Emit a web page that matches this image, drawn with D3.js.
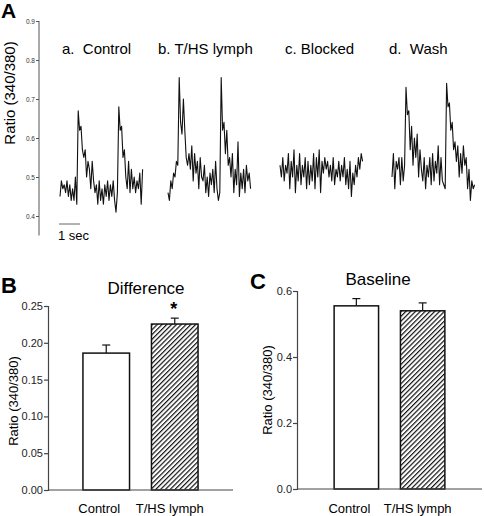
<!DOCTYPE html>
<html><head><meta charset="utf-8">
<script src="https://cdn.jsdelivr.net/npm/d3@7"></script>
<style>body{margin:0;background:#fff}svg{display:block}</style>
</head><body>
<svg id="chart" width="484" height="516"></svg>
<script>
// ---------- DATA ----------
const traceLabels = ["a.  Control", "b. T/HS lymph", "c. Blocked", "d.  Wash"];
const traceA = [0.45,0.49,0.47,0.48,0.46,0.49,0.45,0.48,0.44,0.47,0.44,0.50,0.43,0.67,0.62,0.63,0.57,0.55,0.57,0.50,
                0.54,0.52,0.47,0.54,0.49,0.46,0.48,0.43,0.49,0.44,0.47,0.43,0.48,0.45,0.49,0.44,0.48,0.45,0.49,0.44,
                0.41,0.46,0.68,0.62,0.63,0.55,0.57,0.50,0.47,0.54,0.46,0.52,0.47,0.50,0.46,0.49,0.47,0.51,0.43,0.52];
const traceB = [0.46,0.44,0.49,0.47,0.51,0.50,0.54,0.53,0.755,0.64,0.61,0.70,0.62,0.55,0.53,0.56,0.52,0.58,0.49,0.56,
                0.51,0.54,0.47,0.55,0.50,0.49,0.53,0.46,0.50,0.45,0.51,0.48,0.52,0.46,0.54,0.47,0.44,0.46,0.755,0.62,
                0.64,0.56,0.62,0.53,0.55,0.50,0.56,0.46,0.52,0.48,0.59,0.45,0.51,0.47,0.52,0.46,0.53,0.49,0.51,0.47];
const traceC = [0.53,0.50,0.55,0.49,0.53,0.51,0.56,0.47,0.54,0.50,0.57,0.46,0.53,0.49,0.56,0.48,0.53,0.50,0.55,0.47,
                0.54,0.48,0.53,0.49,0.56,0.47,0.55,0.50,0.57,0.46,0.54,0.51,0.55,0.52,0.54,0.50,0.53,0.49,0.55,0.48,
                0.52,0.50,0.54,0.49,0.53,0.50,0.55,0.48,0.52,0.47,0.54,0.45,0.51,0.48,0.53,0.50,0.55,0.52,0.56,0.54];
const traceD = [0.50,0.56,0.47,0.54,0.52,0.55,0.48,0.55,0.49,0.53,0.73,0.66,0.67,0.57,0.63,0.53,0.60,0.55,0.61,0.50,
                0.57,0.52,0.49,0.55,0.47,0.53,0.50,0.55,0.48,0.56,0.49,0.54,0.51,0.58,0.48,0.55,0.49,0.48,0.47,0.74,
                0.68,0.69,0.62,0.64,0.57,0.59,0.54,0.58,0.50,0.56,0.51,0.58,0.53,0.55,0.47,0.52,0.44,0.49,0.47,0.48];
const sampleInterval = 1 / 15;           // seconds per sample
const traceTicks = [0.4, 0.5, 0.6, 0.7, 0.8, 0.9];

const barCategories = ["Control", "T/HS lymph"];
const differenceMeans = [0.186, 0.2255];
const differenceErrors = [0.011, 0.008];
const differenceTicks = [0, 0.05, 0.10, 0.15, 0.20, 0.25];
const baselineMeans = [0.555, 0.540];
const baselineErrors = [0.022, 0.024];
const baselineTicks = [0, 0.2, 0.4, 0.6];

// ---------- DRAW ----------
const FONT = "'Liberation Sans', Arial, Helvetica, sans-serif";
const svg = d3.select("#chart").style("font-family", FONT);

// pattern for hatched bars
const defs = svg.append("defs");
defs.append("pattern").attr("id", "hatch").attr("patternUnits", "userSpaceOnUse")
  .attr("width", 3.4).attr("height", 3.4).attr("patternTransform", "rotate(45)")
  .call(p => {
    p.append("rect").attr("width", 3.4).attr("height", 3.4).attr("fill", "#fff");
    p.append("line").attr("x1", 0.6).attr("y1", 0).attr("x2", 0.6).attr("y2", 3.4)
      .attr("stroke", "#111").attr("stroke-width", 1.2);
  });

// ===== Panel A =====
svg.append("text").attr("x", 1).attr("y", 18).text("A")
  .attr("font-size", 21).attr("font-weight", "bold");

const yA = d3.scaleLinear().domain([0.4, 0.9]).range([216, 21]);
const axA = svg.append("g").attr("transform", "translate(39,0)")
  .call(d3.axisLeft(yA).tickValues(traceTicks).tickSize(3).tickFormat(d3.format(".1f")));
axA.select(".domain").remove();
axA.append("line").attr("x1", 0).attr("x2", 0).attr("y1", yA(0.9)).attr("y2", yA(0.35))
  .attr("stroke", "#555").attr("stroke-width", 1);
axA.selectAll(".tick line").attr("stroke", "#555");
axA.selectAll(".tick text").attr("font-size", 6.5).attr("fill", "#333")
  .attr("font-family", FONT).attr("x", -4);

svg.append("text").attr("transform", "translate(15,93) rotate(-90)")
  .attr("text-anchor", "middle").attr("font-size", 15).text("Ratio (340/380)");

const pxPerSec = 21;
const traceStarts = [60, 168, 280, 392];
const traces = [traceA, traceB, traceC, traceD];
const labelStarts = [62, 158, 285, 389];

traces.forEach((vals, i) => {
  const dur = (vals.length - 1) * sampleInterval;
  const x = d3.scaleLinear().domain([0, dur])
    .range([traceStarts[i], traceStarts[i] + dur * pxPerSec]);
  const line = d3.line().x((d, j) => x(j * sampleInterval)).y(d => yA(d));
  svg.append("path").datum(vals).attr("d", line)
    .attr("fill", "none").attr("stroke", "#111").attr("stroke-width", 1.1)
    .attr("stroke-linejoin", "round");
  svg.append("text").attr("x", labelStarts[i]).attr("y", 54)
    .attr("font-size", 15).style("white-space", "pre").text(traceLabels[i]);
});

// 1-second scale bar
const xScaleBar = d3.scaleLinear().domain([0, 1]).range([59, 59 + pxPerSec]);
svg.append("line").attr("x1", xScaleBar(0)).attr("x2", xScaleBar(1))
  .attr("y1", 224).attr("y2", 224).attr("stroke", "#666").attr("stroke-width", 1);
svg.append("text").attr("x", 58).attr("y", 240).attr("font-size", 13).text("1 sec");

// ===== Bar panels =====
function barPanel(opt) {
  const y = d3.scaleLinear().domain(opt.domain).range([opt.bottom, opt.top]);
  const x = d3.scaleBand().domain(barCategories).range([opt.left, opt.right])
    .paddingInner(opt.pi).paddingOuter(opt.po);
  svg.append("text").attr("x", opt.letterX).attr("y", opt.letterY).text(opt.letter)
    .attr("font-size", 22).attr("font-weight", "bold");
  svg.append("text").attr("x", opt.titleX).attr("y", opt.titleY).attr("text-anchor", "middle")
    .attr("font-size", 17).text(opt.title);
  opt.means.forEach((m, i) => {
    const c = barCategories[i];
    svg.append("rect").attr("x", x(c)).attr("y", y(m)).attr("width", x.bandwidth())
      .attr("height", y(0) - y(m)).attr("fill", i === 0 ? "#fff" : "url(#hatch)")
      .attr("stroke", "#111").attr("stroke-width", 1.5);
    const cx = x(c) + x.bandwidth() / 2;
    svg.append("line").attr("x1", cx).attr("x2", cx).attr("y1", y(m)).attr("y2", y(m + opt.errs[i]))
      .attr("stroke", "#111").attr("stroke-width", 1.2);
    svg.append("line").attr("x1", cx - 4).attr("x2", cx + 4)
      .attr("y1", y(m + opt.errs[i])).attr("y2", y(m + opt.errs[i]))
      .attr("stroke", "#111").attr("stroke-width", 1.2);
    svg.append("text").attr("x", cx - 7 + (i === 0 ? 0 : 2)).attr("y", 513).attr("text-anchor", "middle")
      .attr("font-size", 13).text(c);
  });
  const ay = svg.append("g").attr("transform", `translate(${opt.left},0)`)
    .call(d3.axisLeft(y).tickValues(opt.ticks).tickSize(4).tickFormat(d3.format(opt.fmt)));
  ay.selectAll(".domain,.tick line").attr("stroke", "#444").attr("stroke-width", 1.2);
  ay.selectAll(".tick text").attr("font-size", 11).attr("fill", "#222").attr("font-family", FONT)
    .attr("x", -5);
  svg.append("line").attr("x1", opt.left).attr("x2", opt.right).attr("y1", y(0)).attr("y2", y(0))
    .attr("stroke", "#444").attr("stroke-width", 1.2);
  svg.append("text").attr("transform", `translate(${opt.yTitleX},${opt.yTitleY}) rotate(-90)`)
    .attr("text-anchor", "middle").attr("font-size", 13).text("Ratio (340/380)");
  return {x, y};
}

const pB = barPanel({
  domain: [0, 0.25], bottom: 490, top: 306, left: 48, right: 233, pi: 0.32, po: 0.51,
  means: differenceMeans, errs: differenceErrors, ticks: differenceTicks, fmt: ".2f",
  letter: "B", letterX: 1, letterY: 293, title: "Difference", titleX: 146, titleY: 294,
  yTitleX: 18, yTitleY: 401
});
// significance star
svg.append("text")
  .attr("x", pB.x("T/HS lymph") + pB.x.bandwidth() / 2 - 1)
  .attr("y", pB.y(differenceMeans[1] + differenceErrors[1]) - 3)
  .attr("text-anchor", "middle").attr("font-size", 18).attr("font-weight", "bold").text("*");

barPanel({
  domain: [0, 0.6], bottom: 489, top: 291, left: 297, right: 482, pi: 0.33, po: 0.56,
  means: baselineMeans, errs: baselineErrors, ticks: baselineTicks, fmt: ".1f",
  letter: "C", letterX: 250, letterY: 289, title: "Baseline", titleX: 378, titleY: 285,
  yTitleX: 272, yTitleY: 390
});
</script>
</body></html>
